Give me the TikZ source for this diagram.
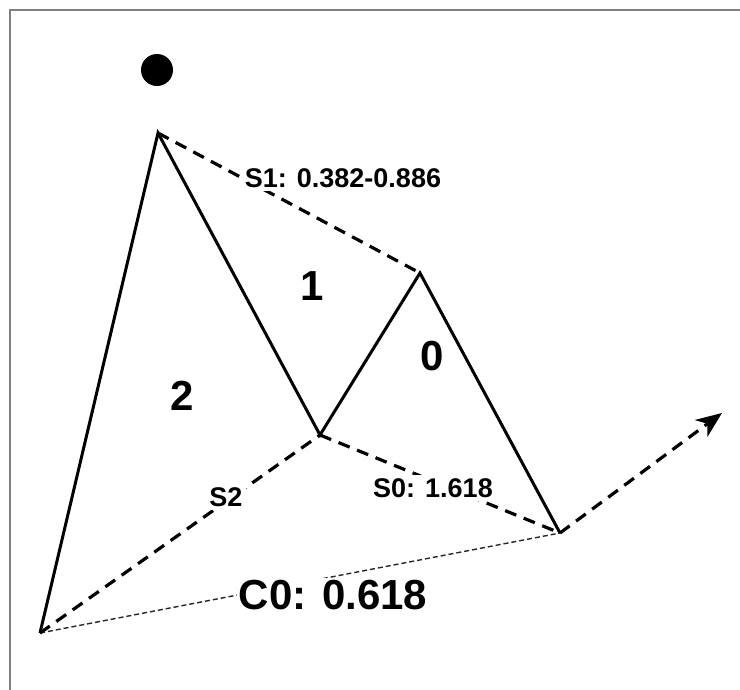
\documentclass[tikz,border=0pt]{standalone}
\usepackage{fontspec}
\setmainfont{Liberation Sans}
\usetikzlibrary{arrows.meta}
\begin{document}
\begin{tikzpicture}[x=1pt,y=-1pt,
  solidleg/.style={line width=3pt,line join=miter},
  dashleg/.style={line width=3.2pt,dash pattern=on 12pt off 8pt},
  dotleg/.style={line width=1.4pt,draw=black!85,dash pattern=on 5pt off 3pt},
  smalllab/.style={fill=white,inner sep=3pt,font=\bfseries\fontsize{27}{30}\selectfont},
  biglab/.style={inner sep=2pt,font=\bfseries\fontsize{42}{46}\selectfont},
  frameline/.style={draw=black!50,line width=2pt}]
\useasboundingbox (0,0) rectangle (740,690);
\fill[white] (0,0) rectangle (740,690);
% partial frame
\coordinate (f1) at (9,10);
\coordinate (f2) at (740,10);
\coordinate (f3) at (10,9);
\coordinate (f4) at (10,690);
\draw[frameline] (f1) -- (f2);
\draw[frameline] (f3) -- (f4);
% points
\coordinate (X) at (40,633);
\coordinate (A) at (158,133);
\coordinate (B) at (320,435);
\coordinate (C) at (420,273);
\coordinate (D) at (560,533);
\coordinate (E) at (722,413);
% dot
\node[circle,fill=black,minimum size=32pt,inner sep=0pt] (dot) at (157,70) {};
% dotted base line
\draw[dotleg] (X) -- (D);
% dashed legs
\draw[dashleg] (A) -- (C);
\draw[dashleg] (X) -- (B);
\draw[dashleg] (B) -- (D);
\draw[dashleg,-{Stealth[length=26pt,width=21pt,inset=8pt]}] (D) -- (E);
% solid legs
\draw[solidleg] (X) -- (A) -- (B) -- (C) -- (D);
% labels
\node[smalllab] (s1) at (343,178) {S1: 0.382-0.886};
\node[smalllab] (s2) at (226,497) {S2};
\node[smalllab] (s0) at (433,488) {S0: 1.618};
\node[biglab,fill=white] (c0) at (333,595) {C0: 0.618};
\node[biglab] (n1) at (312,286) {1};
\node[biglab] (n0) at (432,356) {0};
\node[biglab] (n2) at (182,396) {2};
\end{tikzpicture}
\end{document}
